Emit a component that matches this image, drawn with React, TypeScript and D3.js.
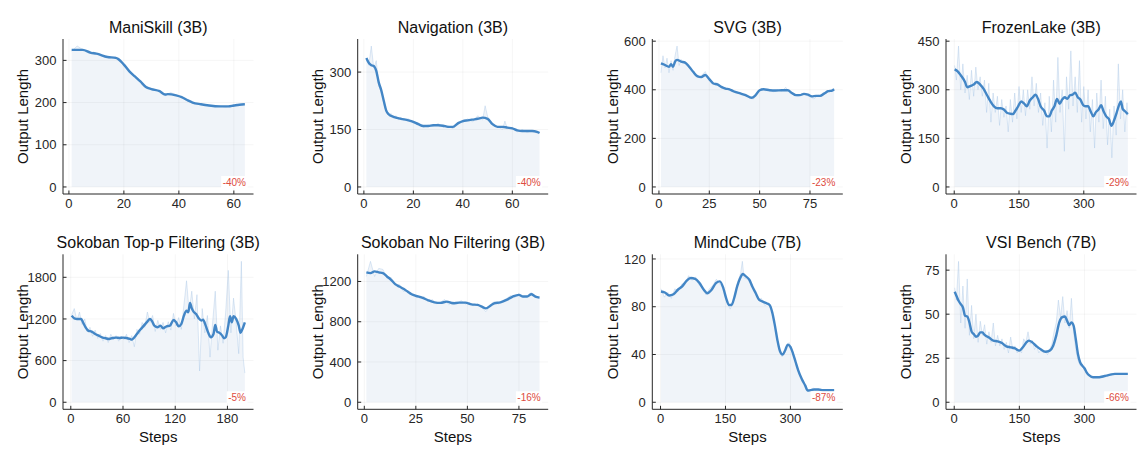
import React from "react";
import * as d3 from "d3";

type Pt = [number, number];

// [step, output length] — faint raw curve and the smoothed curve per environment
const maniSkillRaw: Pt[] = [
  [1, 322], [3, 334], [5, 326], [7, 318], [9, 320], [11, 312], [13, 309], [15, 305], [17, 308],
  [19, 296], [21, 280], [23, 266], [25, 258], [27, 243], [29, 236], [31, 230], [33, 228],
  [35, 216], [37, 224], [39, 218], [41, 212], [43, 205], [45, 199], [47, 198], [49, 195],
  [51, 192], [53, 190], [55, 192], [57, 189], [59, 193], [61, 196], [63, 194], [64, 197],
];
const maniSkillSmooth: Pt[] = [
  [1, 325], [5, 325], [8, 318], [10, 316], [14, 308], [17, 306], [18, 303], [20, 290], [22, 274],
  [24, 262], [26, 250], [28, 237], [30, 232], [33, 227], [35, 219], [36, 220], [39, 217],
  [41, 213], [43, 206], [45, 200], [48, 196], [51, 193], [55, 191], [58, 191], [60, 193],
  [62, 195], [64, 196],
];

const navigationRaw: Pt[] = [
  [1, 335], [2, 318], [3, 368], [4, 310], [5, 330], [6, 262], [7, 258], [8, 220], [9, 196],
  [10, 188], [11, 192], [12, 180], [13, 186], [14, 176], [15, 182], [16, 174], [18, 178],
  [20, 166], [22, 168], [24, 155], [26, 162], [28, 158], [30, 166], [32, 156], [34, 160],
  [36, 152], [38, 170], [40, 168], [42, 178], [44, 170], [46, 186], [48, 175], [49, 212],
  [50, 184], [52, 160], [54, 158], [56, 150], [57, 172], [58, 152], [60, 156], [62, 144],
  [64, 150], [66, 142], [68, 148], [70, 140], [71, 142],
];
const navigationSmooth: Pt[] = [
  [1, 337], [2, 324], [3, 318], [4, 316], [5, 303], [6, 273], [7, 253], [8, 226], [9, 200],
  [10, 190], [12, 183], [15, 178], [18, 174], [20, 170], [22, 164], [24, 159], [26, 159],
  [28, 161], [30, 161], [32, 160], [34, 157], [36, 157], [38, 166], [40, 172], [42, 174],
  [44, 176], [46, 178], [48, 181], [50, 178], [52, 164], [54, 157], [56, 157], [58, 155],
  [60, 153], [62, 148], [64, 146], [66, 146], [68, 146], [70, 144], [71, 141],
];

const svgRaw: Pt[] = [
  [1, 470], [2, 540], [3, 490], [4, 530], [5, 470], [6, 520], [7, 480], [8, 540], [9, 580],
  [10, 500], [11, 525], [13, 505], [15, 490], [17, 470], [19, 450], [21, 458], [23, 475],
  [25, 440], [27, 425], [29, 428], [31, 405], [33, 410], [35, 398], [37, 390], [39, 392],
  [41, 380], [43, 382], [45, 365], [47, 362], [49, 395], [51, 405], [53, 396], [55, 400],
  [57, 392], [59, 400], [61, 395], [63, 410], [65, 385], [67, 380], [69, 372], [71, 385],
  [73, 378], [75, 372], [77, 362], [79, 378], [81, 372], [83, 392], [85, 398], [87, 404],
];
const svgSmooth: Pt[] = [
  [1, 509], [3, 502], [5, 495], [6, 505], [7, 495], [8, 516], [9, 523], [11, 516], [13, 512],
  [15, 495], [17, 474], [19, 456], [21, 452], [23, 461], [25, 444], [27, 426], [29, 422],
  [31, 412], [33, 405], [35, 402], [37, 394], [40, 386], [43, 378], [46, 367], [48, 378],
  [50, 398], [52, 402], [55, 398], [58, 397], [61, 398], [64, 398], [66, 387], [68, 378],
  [70, 378], [72, 383], [74, 380], [76, 373], [78, 375], [80, 375], [82, 384], [84, 394],
  [86, 397], [87, 402],
];

const frozenLakeRaw: Pt[] = [
  [1, 375], [5, 330], [10, 435], [15, 300], [20, 380], [25, 290], [30, 345], [35, 270],
  [40, 360], [45, 280], [50, 370], [55, 300], [60, 340], [65, 280], [70, 330], [75, 230],
  [80, 320], [85, 200], [90, 290], [95, 230], [100, 280], [105, 190], [110, 270], [115, 215],
  [120, 250], [125, 170], [130, 270], [135, 200], [140, 290], [145, 210], [150, 310],
  [155, 230], [160, 300], [165, 220], [170, 300], [175, 240], [180, 340], [185, 250],
  [190, 320], [195, 230], [200, 290], [205, 190], [210, 260], [215, 120], [220, 280],
  [225, 170], [230, 330], [235, 200], [240, 400], [245, 230], [250, 300], [255, 110],
  [260, 340], [265, 240], [270, 420], [275, 250], [280, 340], [285, 230], [290, 390],
  [295, 200], [300, 310], [305, 210], [310, 300], [315, 170], [320, 270], [325, 120],
  [330, 290], [335, 200], [340, 330], [345, 180], [350, 280], [355, 130], [360, 240],
  [365, 90], [370, 250], [375, 160], [380, 380], [385, 210], [390, 300], [395, 170],
  [400, 260], [402, 220],
];
const frozenLakeSmooth: Pt[] = [
  [1, 363], [8, 357], [15, 345], [25, 324], [30, 308], [38, 312], [45, 316], [52, 324],
  [60, 316], [68, 303], [76, 283], [84, 264], [92, 249], [100, 243], [108, 243], [115, 239],
  [122, 229], [130, 226], [136, 225], [142, 236], [148, 249], [155, 264], [162, 257],
  [168, 249], [175, 267], [182, 277], [188, 285], [194, 272], [200, 249], [208, 236],
  [215, 218], [220, 218], [226, 236], [232, 249], [238, 272], [244, 257], [250, 270],
  [256, 277], [262, 272], [268, 283], [274, 285], [280, 291], [286, 277], [292, 270],
  [298, 254], [304, 249], [310, 249], [316, 233], [322, 218], [328, 231], [334, 239],
  [340, 252], [346, 233], [352, 218], [358, 210], [364, 189], [370, 205], [376, 229],
  [382, 254], [386, 264], [390, 241], [396, 233], [402, 225],
];

const topPRaw: Pt[] = [
  [1, 1260], [4, 1350], [7, 1180], [10, 1300], [13, 1120], [16, 1200], [19, 1020], [22, 1080],
  [25, 950], [28, 1040], [31, 920], [34, 990], [37, 880], [40, 960], [43, 860], [46, 980],
  [49, 900], [52, 960], [55, 880], [58, 950], [61, 900], [64, 980], [67, 860], [70, 960],
  [73, 800], [76, 1050], [79, 980], [82, 1150], [85, 1080], [88, 1300], [91, 1150],
  [94, 1250], [97, 1020], [100, 1180], [103, 1050], [106, 1150], [109, 1000], [112, 1160],
  [115, 1040], [118, 1280], [121, 1100], [124, 1220], [127, 1050], [130, 1400], [133, 1750],
  [136, 1300], [139, 1600], [142, 1200], [145, 1550], [148, 450], [151, 1350], [154, 1000],
  [157, 1250], [160, 650], [163, 1150], [166, 1600], [169, 750], [172, 1100], [175, 850],
  [178, 1300], [181, 1900], [184, 1000], [187, 1500], [190, 1150], [193, 700], [196, 2030],
  [198, 650], [200, 420],
];
const topPSmooth: Pt[] = [
  [1, 1248], [4, 1210], [8, 1200], [12, 1200], [14, 1152], [17, 1080], [20, 1032], [24, 1018],
  [28, 984], [32, 960], [36, 936], [40, 922], [44, 912], [48, 926], [52, 931], [56, 926],
  [60, 931], [64, 926], [68, 912], [70, 902], [72, 922], [76, 984], [80, 1047], [84, 1104],
  [88, 1162], [91, 1200], [93, 1176], [96, 1104], [100, 1080], [103, 1104], [106, 1066],
  [110, 1094], [114, 1104], [118, 1186], [121, 1152], [124, 1094], [127, 1128], [130, 1248],
  [133, 1320], [135, 1296], [137, 1430], [139, 1354], [141, 1306], [144, 1272], [147, 1210],
  [150, 1176], [152, 1190], [155, 1104], [158, 1000], [161, 936], [164, 984], [166, 1114],
  [168, 1018], [171, 1000], [174, 960], [176, 922], [178, 936], [181, 1104], [183, 1238],
  [185, 1152], [187, 1238], [190, 1200], [193, 1104], [195, 1000], [197, 1047], [200, 1152],
];

const noFilterRaw: Pt[] = [
  [1, 1250], [3, 1400], [5, 1250], [7, 1330], [9, 1320], [11, 1230], [13, 1240], [15, 1160],
  [17, 1170], [19, 1100], [21, 1110], [23, 1060], [25, 1070], [27, 1030], [29, 1050],
  [31, 1000], [33, 1020], [35, 980], [37, 995], [39, 1020], [41, 970], [43, 1000], [45, 980],
  [47, 1010], [49, 975], [51, 990], [53, 960], [55, 975], [57, 940], [59, 900], [61, 960],
  [63, 1000], [65, 975], [67, 1010], [69, 1030], [71, 1060], [73, 1040], [75, 1080],
  [77, 1040], [79, 1060], [81, 1090], [83, 1050], [85, 1030],
];
const noFilterSmooth: Pt[] = [
  [1, 1290], [3, 1283], [5, 1300], [7, 1290], [9, 1283], [11, 1250], [13, 1217], [15, 1173],
  [17, 1150], [19, 1127], [21, 1100], [23, 1073], [25, 1057], [28, 1040], [31, 1013],
  [34, 993], [37, 987], [40, 1000], [43, 983], [46, 990], [49, 990], [52, 973], [55, 967],
  [57, 950], [59, 933], [61, 957], [63, 983], [66, 993], [69, 1017], [72, 1050], [75, 1067],
  [77, 1050], [79, 1050], [81, 1073], [83, 1050], [85, 1040],
];

const mindCubeRaw: Pt[] = [
  [1, 95], [9, 88], [17, 92], [25, 87], [33, 95], [41, 93], [49, 99], [57, 100], [65, 106],
  [73, 102], [81, 105], [89, 98], [97, 96], [105, 90], [113, 95], [121, 98], [129, 103],
  [137, 99], [145, 96], [153, 84], [161, 78], [169, 86], [177, 99], [185, 108], [189, 118],
  [193, 104], [201, 103], [209, 99], [217, 93], [225, 86], [233, 87], [241, 81], [249, 83],
  [257, 77], [265, 62], [273, 45], [281, 38], [289, 45], [297, 50], [305, 43], [313, 33],
  [321, 24], [329, 18], [337, 11], [345, 10], [353, 12], [361, 9], [369, 11], [377, 10],
  [385, 10], [393, 10], [401, 10],
];
const mindCubeSmooth: Pt[] = [
  [1, 92.7], [10, 91.9], [20, 89.4], [30, 90.5], [40, 94.2], [50, 97], [60, 101.7], [70, 104],
  [80, 103.4], [90, 99.8], [100, 94.2], [108, 91.3], [118, 94.2], [128, 99.8], [137, 101.2],
  [145, 95.6], [152, 86.6], [158, 81.5], [164, 81.5], [170, 87.1], [177, 97], [184, 104],
  [190, 107.4], [197, 105.4], [205, 102.6], [212, 97], [220, 91.3], [228, 85.7], [236, 84.3],
  [245, 82.9], [252, 81.5], [258, 75.3], [264, 64.6], [270, 52], [276, 42.7], [282, 39.9],
  [288, 43.6], [294, 48.3], [300, 46.4], [306, 40.8], [312, 33.7], [318, 26.7], [326, 19.7],
  [334, 14.1], [340, 9.8], [346, 10.1], [355, 10.7], [365, 10.7], [375, 10.1], [385, 10.1],
  [395, 10.1], [401, 10.1],
];

const vsiRaw: Pt[] = [
  [1, 65], [5, 58], [10, 80], [15, 45], [20, 66], [25, 42], [30, 70], [35, 38], [40, 55],
  [45, 36], [50, 50], [55, 34], [60, 46], [65, 38], [70, 44], [75, 33], [80, 40], [85, 34],
  [90, 45], [95, 32], [100, 38], [105, 32], [110, 36], [115, 30], [120, 34], [125, 28],
  [130, 37], [135, 30], [140, 32], [145, 28], [150, 30], [155, 28], [160, 36], [165, 34],
  [170, 40], [175, 33], [180, 35], [185, 30], [190, 32], [195, 28], [200, 30], [205, 28],
  [210, 29], [215, 27], [220, 30], [225, 33], [230, 40], [235, 45], [240, 58], [245, 48],
  [250, 60], [255, 45], [260, 52], [265, 42], [270, 59], [275, 40], [280, 30], [285, 24],
  [290, 21], [295, 20], [300, 19], [305, 16], [310, 15], [315, 14], [320, 14], [330, 14],
  [340, 15], [350, 15], [360, 16], [370, 16], [380, 16], [390, 16], [400, 16],
];
const vsiSmooth: Pt[] = [
  [1, 62.7], [5, 60.5], [10, 57.6], [15, 55.7], [20, 53.8], [25, 49.1], [30, 48.7], [35, 45.3],
  [40, 40.1], [45, 38.7], [50, 37.2], [55, 37.8], [60, 39.7], [65, 39.7], [70, 38.2],
  [80, 36.8], [90, 35], [100, 34.6], [110, 33.6], [120, 31.7], [130, 31.2], [140, 30.6],
  [150, 29.3], [158, 31.2], [165, 33.6], [172, 35], [180, 34], [190, 31.7], [200, 29.9],
  [210, 28.7], [220, 29.3], [228, 32.1], [235, 37.8], [242, 45.3], [248, 48.2], [255, 48.7],
  [260, 46.3], [265, 43.8], [270, 45.3], [275, 43.5], [280, 35.9], [285, 27.4], [290, 22.7],
  [295, 20.8], [300, 19.3], [305, 17], [312, 15.1], [320, 14.2], [330, 14.2], [340, 14.5],
  [350, 15.1], [360, 15.7], [370, 16.1], [380, 16.1], [390, 16.1], [400, 16.1],
];

const titles = [
  "ManiSkill (3B)", "Navigation (3B)", "SVG (3B)", "FrozenLake (3B)",
  "Sokoban Top-p Filtering (3B)", "Sokoban No Filtering (3B)", "MindCube (7B)", "VSI Bench (7B)",
];
const changes = ["-40%", "-40%", "-23%", "-29%", "-5%", "-16%", "-87%", "-66%"];
const xTickSets = [
  [0, 20, 40, 60], [0, 20, 40, 60], [0, 25, 50, 75], [0, 150, 300],
  [0, 60, 120, 180], [0, 25, 50, 75], [0, 150, 300], [0, 150, 300],
];
const yTickSets = [
  [0, 100, 200, 300], [0, 150, 300], [0, 200, 400, 600], [0, 150, 300, 450],
  [0, 600, 1200, 1800], [0, 400, 800, 1200], [0, 40, 80, 120], [0, 25, 50, 75],
];
const rawSeries = [maniSkillRaw, navigationRaw, svgRaw, frozenLakeRaw, topPRaw, noFilterRaw, mindCubeRaw, vsiRaw];
const smoothSeries = [
  maniSkillSmooth, navigationSmooth, svgSmooth, frozenLakeSmooth,
  topPSmooth, noFilterSmooth, mindCubeSmooth, vsiSmooth,
];

const W = 1143;
const H = 453;
const FONT = "'Liberation Sans', Arial, Helvetica, sans-serif";
const colLeft = [63, 357.7, 652.3, 946];
const rowTop = [39, 254.3];
const plotW = 190.5;
const plotH = 155;

const INK = "#262626";
const LINE = "#4386c6";
const FILL = "#f0f4f9";

// rough glyph widths for the 10px percentage badge
const badgeWidth = (s: string) =>
  s.split("").reduce((acc, c) => acc + (c === "%" ? 8.9 : c === "-" ? 3.3 : 5.56), 0);

interface PanelProps {
  idx: number;
  left: number;
  top: number;
  bottomRow: boolean;
}

const Panel: React.FC<PanelProps> = ({ idx, left, top, bottomRow }) => {
  const raw = rawSeries[idx];
  const smooth = smoothSeries[idx];
  const right = left + plotW;
  const bottom = top + plotH;

  // matplotlib-like 5% margins on both axes
  const [x0, x1] = d3.extent(raw, (d) => d[0]) as [number, number];
  const xPad = (x1 - x0) * 0.05;
  const x = d3.scaleLinear().domain([x0 - xPad, x1 + xPad]).range([left, right]);
  const yMax = d3.max([...raw, ...smooth], (d) => d[1]) as number;
  const y = d3.scaleLinear().domain([-0.05 * yMax, 1.05 * yMax]).range([bottom, top]);

  const area = d3.area<Pt>().x((d) => x(d[0])).y0(y(0)).y1((d) => y(d[1]));
  const rawLine = d3.line<Pt>().x((d) => x(d[0])).y((d) => y(d[1]));
  const smoothLine = d3
    .line<Pt>()
    .x((d) => x(d[0]))
    .y((d) => y(d[1]))
    .curve(d3.curveMonotoneX);

  const xTicks = xTickSets[idx];
  const yTicks = yTickSets[idx];
  const label = changes[idx];
  const bw = badgeWidth(label) + 3;
  const bx = right - 6 - bw;
  const by = bottom - 18;

  return (
    <g>
      <path d={area(raw) ?? ""} fill={FILL} />
      {xTicks.map((t) => (
        <line key={"gx" + t} x1={x(t)} x2={x(t)} y1={top} y2={bottom} stroke="#000" strokeOpacity={0.05} strokeWidth={0.8} />
      ))}
      {yTicks.map((t) => (
        <line key={"gy" + t} x1={left} x2={right} y1={y(t)} y2={y(t)} stroke="#000" strokeOpacity={0.05} strokeWidth={0.8} />
      ))}
      <path d={rawLine(raw) ?? ""} fill="none" stroke="#a8c6e6" strokeOpacity={0.5} strokeWidth={0.8} />
      <path d={smoothLine(smooth) ?? ""} fill="none" stroke={LINE} strokeWidth={2.4} strokeLinejoin="round" />

      <rect x={bx} y={by} width={bw} height={12} fill="#fff" />
      <text x={right - 7.5} y={by + 9.5} textAnchor="end" fontSize={10} fill="#dd4b3e" fontFamily={FONT}>
        {label}
      </text>

      <line x1={left} x2={left} y1={top} y2={bottom} stroke={INK} strokeWidth={1} />
      <line x1={left} x2={right} y1={bottom} y2={bottom} stroke={INK} strokeWidth={1} />
      {xTicks.map((t) => (
        <g key={"xt" + t}>
          <line x1={x(t)} x2={x(t)} y1={bottom} y2={bottom - 3.5} stroke={INK} strokeWidth={1} />
          <text x={x(t)} y={bottom + 14} textAnchor="middle" fontSize={13} fill={INK} fontFamily={FONT}>
            {t}
          </text>
        </g>
      ))}
      {yTicks.map((t) => (
        <g key={"yt" + t}>
          <line x1={left} x2={left + 3.5} y1={y(t)} y2={y(t)} stroke={INK} strokeWidth={1} />
          <text x={left - 6.5} y={y(t)} dy="0.35em" textAnchor="end" fontSize={13} fill={INK} fontFamily={FONT}>
            {t}
          </text>
        </g>
      ))}

      <text x={(left + right) / 2} y={top - 6} textAnchor="middle" fontSize={16} fill="#111" fontFamily={FONT}>
        {titles[idx]}
      </text>
      <text
        transform={`translate(${left - 40},${(top + bottom) / 2}) rotate(-90)`}
        dy="0.35em"
        textAnchor="middle"
        fontSize={15}
        fill="#111"
        fontFamily={FONT}
      >
        Output Length
      </text>
      {bottomRow && (
        <text x={(left + right) / 2} y={bottom + 33} textAnchor="middle" fontSize={15} fill="#111" fontFamily={FONT}>
          Steps
        </text>
      )}
    </g>
  );
};

export default function App() {
  return (
    <svg
      width={W}
      height={H}
      viewBox={`0 0 ${W} ${H}`}
      style={{ position: "absolute", left: 0, top: 0, background: "#fff" }}
    >
      <rect width={W} height={H} fill="#fff" />
      {titles.map((_, i) => {
        const row = i < 4 ? 0 : 1;
        const col = i % 4;
        return <Panel key={i} idx={i} left={colLeft[col]} top={rowTop[row]} bottomRow={row === 1} />;
      })}
    </svg>
  );
}
